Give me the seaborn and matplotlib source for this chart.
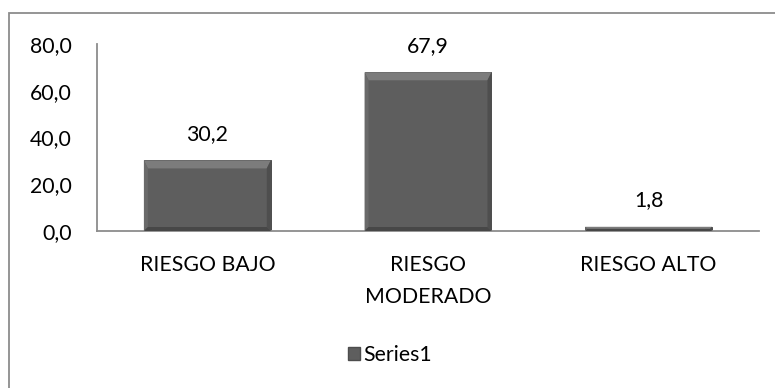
import matplotlib
matplotlib.use("Agg")
import matplotlib.pyplot as plt
from matplotlib.patches import Rectangle, Patch, Polygon
from matplotlib.transforms import IdentityTransform
import seaborn as sns
import pandas as pd

categories = ["RIESGO BAJO", "RIESGO\nMODERADO", "RIESGO ALTO"]
values = [30.2, 67.9, 1.8]
series_name = "Series1"
y_ticks = [0, 20, 40, 60, 80]

sns.set_theme(style="white")
plt.rcParams["font.family"] = ["Lato", "DejaVu Sans"]

FS = 15.3
df = pd.DataFrame({"categoria": categories, "valor": values})

fig = plt.figure(figsize=(7.75, 3.88), dpi=100)
W, H = 775, 388
ax = fig.add_axes([97 / W, 1 - 231 / H, (759 - 97) / W, (231 - 44) / H])

bar_color = "#5e5e5e"
sns.barplot(data=df, x="categoria", y="valor", ax=ax, color=bar_color,
            width=0.575, saturation=1, edgecolor="#4d4d4d", linewidth=0.7)

ax.set_xlim(-0.5, 2.5)
ax.set_ylim(0, 80)

# bevelled edges on each bar, built from the bar rectangles themselves
fig.canvas.draw()
for bar in ax.patches:
    x0, y0 = bar.get_x(), bar.get_y()
    x1, y1 = x0 + bar.get_width(), y0 + bar.get_height()
    (px0, py0), (px1, py1) = ax.transData.transform([(x0, y0), (x1, y1)])
    h = py1 - py0
    t = min(8, h / 2)      # top bevel
    s = min(4, h / 2)      # side / bottom bevel
    pieces = [
        ([(px0, py1), (px1, py1), (px1 - s, py1 - t), (px0 + s, py1 - t)], "#7c7c7c"),
        ([(px0, py0), (px0, py1), (px0 + s, py1 - t), (px0 + s, py0 + s)], "#6a6a6a"),
        ([(px1, py0), (px1, py1), (px1 - s, py1 - t), (px1 - s, py0 + s)], "#4e4e4e"),
        ([(px0, py0), (px1, py0), (px1 - s, py0 + s), (px0 + s, py0 + s)], "#474747"),
    ]
    for pts, col in pieces:
        fig.add_artist(Polygon(pts, closed=True, facecolor=col, edgecolor="none",
                               transform=IdentityTransform(), zorder=3))

# value labels above each bar
for i, v in enumerate(values):
    ax.annotate(f"{v:.1f}".replace(".", ","), (i, v), xytext=(0, 12),
                textcoords="offset points", ha="center", va="bottom",
                fontsize=FS, color="#000000")

ax.set_yticks(y_ticks)
ax.set_yticklabels([f"{t:.1f}".replace(".", ",") for t in y_ticks])
ax.set_xlabel("")
ax.set_ylabel("")
ax.tick_params(axis="y", length=0, pad=18, labelsize=FS, colors="#000000")
ax.tick_params(axis="x", length=0, pad=17, labelsize=FS, colors="#000000")
for lbl in ax.get_xticklabels():
    lbl.set_linespacing(1.75)
    lbl.set_verticalalignment("top")

for side in ["top", "right"]:
    ax.spines[side].set_visible(False)
for side in ["left", "bottom"]:
    ax.spines[side].set_color("#8c8c8c")
    ax.spines[side].set_linewidth(1.3)

# legend below the axes
handle = Patch(facecolor=bar_color, edgecolor="#4d4d4d", label=series_name)
fig.legend(handles=[handle], loc="center", bbox_to_anchor=(390 / W, 1 - 355 / H),
           frameon=False, fontsize=FS, handlelength=0.6, handleheight=0.6,
           handletextpad=0.15, labelcolor="#000000")

# chart-area frame
frame = Rectangle((8.5 / W, -0.2), 1.2, 1 - 12.5 / H + 0.2, transform=fig.transFigure,
                  fill=False, edgecolor="#8c8c8c", linewidth=1.3, clip_on=False)
fig.add_artist(frame)

fig.savefig("out.png", dpi=100)
